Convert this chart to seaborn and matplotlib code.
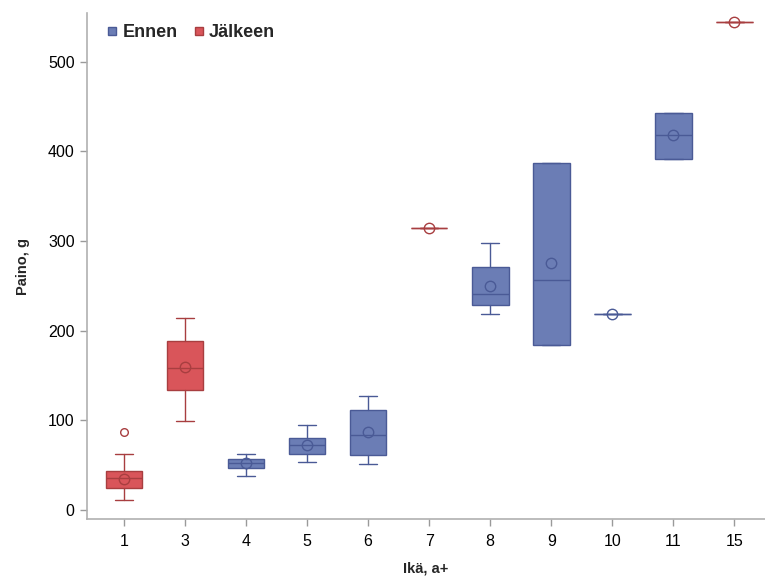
import matplotlib
matplotlib.use("Agg")
import matplotlib.pyplot as plt
from matplotlib.lines import Line2D
import seaborn as sns

# Box statistics (weight, g) per age group
ages = ["1", "3", "4", "5", "6", "7", "8", "9", "10", "11", "15"]
groups = ["Jälkeen", "Jälkeen", "Ennen", "Ennen", "Ennen", "Jälkeen",
          "Ennen", "Ennen", "Ennen", "Ennen", "Jälkeen"]
whisker_low = [11, 99, 38, 53, 51, 314, 219, 184, 219, 392, 544]
q1 = [24, 134, 47, 63, 61, 314, 229, 184, 219, 392, 544]
median = [36, 158, 52, 72, 84, 314, 241, 257, 219, 418, 544]
q3 = [43, 189, 57, 80, 111, 314, 271, 387, 219, 443, 544]
whisker_high = [63, 214, 62, 95, 127, 314, 298, 387, 219, 443, 544]
means = [35, 160, 52, 72, 87, 314, 250, 276, 219, 418, 544]
outliers = [[87], [], [], [], [], [], [], [], [], [], []]

fill = {"Ennen": "#6b7db5", "Jälkeen": "#d9555a"}
edge = {"Ennen": "#4a5a96", "Jälkeen": "#a83e40"}

sns.set_style("ticks")
plt.rcParams["font.family"] = ["Liberation Sans", "DejaVu Sans"]

fig = plt.figure(figsize=(7.65, 5.76), dpi=100)
ax = fig.add_axes([0.114, 0.099, 0.886, 0.878])

for i, age in enumerate(ages):
    g = groups[i]
    stats = [{
        "whislo": whisker_low[i], "q1": q1[i], "med": median[i],
        "q3": q3[i], "whishi": whisker_high[i], "mean": means[i],
        "fliers": outliers[i], "label": age,
    }]
    c = edge[g]
    ax.bxp(stats, positions=[i], widths=0.6, patch_artist=True,
           showmeans=True, showfliers=True, manage_ticks=False,
           boxprops=dict(facecolor=fill[g], edgecolor=c, linewidth=1.0),
           medianprops=dict(color=c, linewidth=1.0),
           whiskerprops=dict(color=c, linewidth=1.0),
           capprops=dict(color=c, linewidth=1.0),
           capwidths=0.3,
           meanprops=dict(marker="o", markerfacecolor="none",
                          markeredgecolor=c, markersize=7.5, markeredgewidth=1.0),
           flierprops=dict(marker="o", markerfacecolor="none",
                           markeredgecolor=c, markersize=5.5, markeredgewidth=1.0))

ax.set_xticks(range(len(ages)))
ax.set_xticklabels(ages)
ax.set_xlim(-0.6, 10.5)
ax.set_ylim(-10, 554)
ax.set_yticks([0, 100, 200, 300, 400, 500])

for s in ["top", "right"]:
    ax.spines[s].set_visible(False)
for s in ["left", "bottom"]:
    ax.spines[s].set_color("#b0b0b0")
    ax.spines[s].set_linewidth(1.2)
ax.tick_params(axis="both", colors="#9a9a9a", length=5, width=1,
               labelcolor="black", labelsize=11.5)
ax.tick_params(axis="x", pad=6)
ax.tick_params(axis="y", pad=4)

ax.set_xlabel("Ikä, a+", fontsize=10.5, fontweight="bold", labelpad=9)
ax.set_ylabel("Paino, g", fontsize=10.5, fontweight="bold", labelpad=13)

handles = [Line2D([], [], marker="s", linestyle="none", markersize=5.5,
                  markerfacecolor=fill[k], markeredgecolor=edge[k], label=k)
           for k in ["Ennen", "Jälkeen"]]
ax.legend(handles=handles, loc="upper left", bbox_to_anchor=(0.0, 1.01),
          ncol=2, frameon=False, handletextpad=0.05, columnspacing=0.7,
          handlelength=1.0, prop=dict(size=13, weight="bold"))

fig.savefig("out.png", dpi=100)
